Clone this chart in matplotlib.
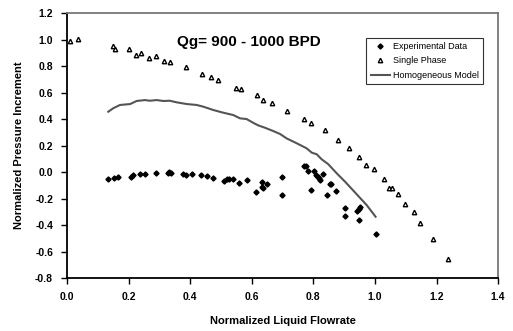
import matplotlib
matplotlib.use("Agg")
import matplotlib.pyplot as plt

plt.rcParams["font.family"] = ["Liberation Sans", "DejaVu Sans"]

# Experimental data (diamonds)
exp_x = [0.134, 0.153, 0.167, 0.207, 0.215, 0.237, 0.254, 0.288, 0.332, 0.338, 0.328,
         0.378, 0.386, 0.406, 0.435, 0.456, 0.475, 0.510, 0.519, 0.526, 0.540, 0.557,
         0.586, 0.613, 0.632, 0.632, 0.637, 0.648, 0.699, 0.699, 0.770, 0.775, 0.781,
         0.802, 0.808, 0.815, 0.819, 0.821, 0.830, 0.792, 0.854, 0.858, 0.843, 0.873,
         0.902, 0.902, 0.943, 0.947, 0.951, 0.948, 1.002]
exp_y = [-0.055, -0.043, -0.040, -0.035, -0.023, -0.015, -0.013, -0.008, 0.002, -0.005, -0.005,
         -0.013, -0.023, -0.015, -0.023, -0.028, -0.043, -0.066, -0.055, -0.055, -0.051, -0.083,
         -0.063, -0.153, -0.075, -0.111, -0.118, -0.088, -0.035, -0.174, 0.045, 0.045, 0.005,
         0.010, -0.023, -0.035, -0.048, -0.060, -0.017, -0.138, -0.088, -0.093, -0.174, -0.143,
         -0.272, -0.332, -0.292, -0.279, -0.266, -0.362, -0.466]

# Single phase (triangles)
sp_x = [0.010, 0.037, 0.150, 0.156, 0.202, 0.224, 0.240, 0.266, 0.288, 0.315, 0.335,
        0.385, 0.438, 0.468, 0.491, 0.550, 0.566, 0.617, 0.636, 0.667, 0.715, 0.770,
        0.792, 0.839, 0.880, 0.916, 0.949, 0.971, 0.998, 1.029, 1.045, 1.056, 1.076,
        1.098, 1.127, 1.147, 1.189, 1.237]
sp_y = [0.985, 1.004, 0.953, 0.926, 0.928, 0.883, 0.900, 0.860, 0.873, 0.835, 0.828,
        0.792, 0.740, 0.717, 0.692, 0.636, 0.624, 0.581, 0.546, 0.518, 0.460, 0.398,
        0.370, 0.317, 0.242, 0.185, 0.115, 0.055, 0.020, -0.055, -0.123, -0.118, -0.168,
        -0.242, -0.302, -0.387, -0.508, -0.654]

# Homogeneous model (line)
hm_x = [0.134, 0.150, 0.172, 0.205, 0.226, 0.253, 0.269, 0.291, 0.313, 0.334, 0.356,
        0.389, 0.421, 0.443, 0.475, 0.507, 0.540, 0.562, 0.583, 0.605, 0.621, 0.643,
        0.670, 0.692, 0.713, 0.746, 0.778, 0.795, 0.811, 0.827, 0.848, 0.876, 0.903,
        0.946, 0.973, 1.002]
hm_y = [0.455, 0.481, 0.506, 0.513, 0.536, 0.543, 0.538, 0.543, 0.536, 0.538, 0.526,
        0.513, 0.506, 0.493, 0.468, 0.448, 0.430, 0.405, 0.400, 0.371, 0.352, 0.334,
        0.309, 0.287, 0.254, 0.217, 0.179, 0.146, 0.134, 0.096, 0.060, -0.010, -0.073,
        -0.181, -0.249, -0.337]

fig = plt.figure(figsize=(5.13, 3.31), dpi=100)
ax = fig.add_axes([0.1306, 0.160, 0.8404, 0.8007])

ax.plot(exp_x, exp_y, linestyle="none", marker="D", ms=2.6, color="black",
        label="Experimental Data")
ax.plot(sp_x, sp_y, linestyle="none", marker="^", ms=3.2, mfc="white", mec="black",
        mew=1.0, label="Single Phase")
ax.plot(hm_x, hm_y, color="#555555", lw=1.5, label="Homogeneous Model")

ax.set_xlim(0, 1.4)
ax.set_ylim(-0.8, 1.2)
ax.set_xticks([0.0, 0.2, 0.4, 0.6, 0.8, 1.0, 1.2, 1.4])
ax.set_yticks([-0.8, -0.6, -0.4, -0.2, 0.0, 0.2, 0.4, 0.6, 0.8, 1.0, 1.2])
ax.xaxis.set_major_formatter(matplotlib.ticker.FormatStrFormatter("%.1f"))
ax.yaxis.set_major_formatter(matplotlib.ticker.FormatStrFormatter("%.1f"))
ax.tick_params(direction="out", length=4, width=1, labelsize=7.5, pad=6)
for lab in ax.get_xticklabels() + ax.get_yticklabels():
    lab.set_fontweight("bold")

for side in ("left", "bottom"):
    ax.spines[side].set_color("black")
    ax.spines[side].set_linewidth(1.3)
for side in ("top", "right"):
    ax.spines[side].set_color("#777777")
    ax.spines[side].set_linewidth(1.3)

ax.set_xlabel("Normalized Liquid Flowrate", fontsize=8, fontweight="bold", labelpad=10)
ax.set_ylabel("Normalized Pressure Increment", fontsize=8, fontweight="bold", labelpad=8)

ax.text(0.357, 0.98, "Qg= 900 - 1000 BPD", fontsize=11, fontweight="bold", va="center")

leg = ax.legend(loc="upper right", bbox_to_anchor=(0.965, 0.906), fontsize=6.5,
                frameon=True, fancybox=False, edgecolor="black", handlelength=2.2,
                handletextpad=0.3, borderpad=0.45, labelspacing=0.6, borderaxespad=0)
leg.get_frame().set_linewidth(0.8)

fig.savefig("out.png", dpi=100)
